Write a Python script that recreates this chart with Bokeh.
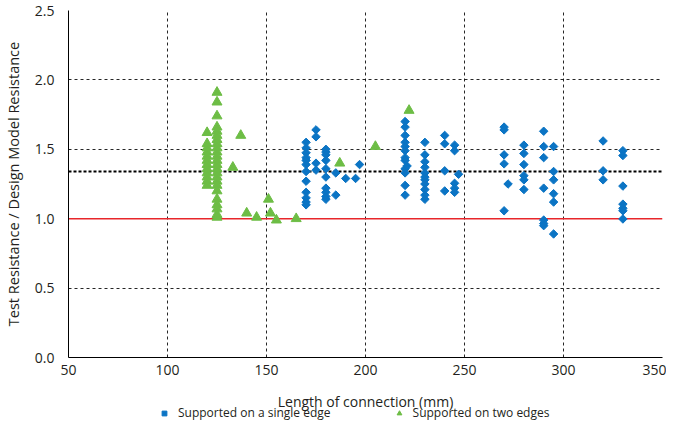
from bokeh.plotting import figure
from bokeh.layouts import column
from bokeh.models import Span, Legend, LegendItem, Label, Range1d, FixedTicker, NumeralTickFormatter
from bokeh.embed import file_html
from bokeh.resources import INLINE
import numpy as np

# ---- data ----
single_x = ([170] * 12 + [175] * 4 + [180] * 10 + [185] * 2 + [190, 195, 197]
            + [220] * 12 + [221] + [230] * 11 + [240] * 4 + [245] * 5 + [247]
            + [270] * 5 + [272] + [280] * 6 + [290] * 7 + [295] * 6 + [320] * 3 + [330] * 7)
single_y = ([1.55, 1.51, 1.475, 1.44, 1.42, 1.39, 1.34, 1.27, 1.19, 1.15, 1.12, 1.10]
            + [1.64, 1.59, 1.40, 1.35]
            + [1.50, 1.48, 1.46, 1.42, 1.36, 1.30, 1.22, 1.19, 1.16, 1.14]
            + [1.33, 1.17] + [1.29, 1.29, 1.39]
            + [1.70, 1.66, 1.60, 1.55, 1.52, 1.49, 1.44, 1.42, 1.36, 1.33, 1.24, 1.17]
            + [1.38]
            + [1.55, 1.46, 1.41, 1.37, 1.33, 1.30, 1.28, 1.25, 1.21, 1.17, 1.14]
            + [1.60, 1.54, 1.345, 1.20]
            + [1.53, 1.49, 1.255, 1.22, 1.19] + [1.32]
            + [1.66, 1.64, 1.46, 1.395, 1.057] + [1.25]
            + [1.53, 1.47, 1.39, 1.31, 1.28, 1.21]
            + [1.63, 1.52, 1.44, 1.22, 0.99, 0.965, 0.95]
            + [1.52, 1.34, 1.28, 1.18, 1.12, 0.89]
            + [1.56, 1.345, 1.28]
            + [1.49, 1.455, 1.235, 1.105, 1.075, 1.057, 0.998])

two_x = ([120] * 12 + [125] * 24 + [133, 137, 140, 145, 151, 152, 155, 165, 187, 205, 222])
two_y = ([1.62, 1.54, 1.51, 1.48, 1.45, 1.42, 1.39, 1.36, 1.33, 1.30, 1.27, 1.24]
         + [1.91, 1.84, 1.74, 1.66, 1.63, 1.60, 1.57, 1.54, 1.51, 1.48, 1.45, 1.42,
            1.39, 1.36, 1.33, 1.30, 1.27, 1.24, 1.20, 1.14, 1.10, 1.07, 1.03, 1.01]
         + [1.37, 1.60, 1.04, 1.01, 1.14, 1.04, 0.99, 1.00, 1.40, 1.52, 1.78])

mean_ratio = 1.34
unity = 1.0
x_min, x_max = 50, 350
x_ticks = [50, 100, 150, 200, 250, 300, 350]
y_ticks = [0.0, 0.5, 1.0, 1.5, 2.0, 2.5]
x_title = "Length of connection (mm)"
y_title = "Test Resistance / Design Model Resistance"
series_names = ["Supported on a single edge", "Supported on two edges"]

FONT = "Open Sans"
TXT = "#231F20"
BLUE = "#0B74C4"
GREEN = "#6DBD45"

p = figure(width=666, height=414, x_range=Range1d(x_min, x_max), y_range=Range1d(0, 2.5),
           output_backend="svg", toolbar_location=None,
           min_border_left=58, min_border_right=4, min_border_top=10, min_border_bottom=57)
p.outline_line_color = None
p.background_fill_color = "white"

for ax in (p.xaxis, p.yaxis):
    ax.axis_line_color = "black"
    ax.axis_line_width = 1
    ax.major_tick_out = 0
    ax.major_tick_in = 0
    ax.minor_tick_out = 0
    ax.minor_tick_in = 0
    ax.major_label_text_font = FONT
    ax.major_label_text_font_size = "14px"
    ax.major_label_text_color = TXT
    ax.axis_label_text_font = FONT
    ax.axis_label_text_font_style = "normal"
    ax.axis_label_text_color = TXT

p.yaxis.axis_label_text_font_size = "14.5px"
p.xaxis.ticker = FixedTicker(ticks=x_ticks)
p.yaxis.ticker = FixedTicker(ticks=y_ticks)
p.yaxis.formatter = NumeralTickFormatter(format="0.0")
p.xaxis.major_label_standoff = 7
p.yaxis.major_label_standoff = 14
p.yaxis.axis_label = y_title
p.yaxis.axis_label_standoff = 9

for g in (p.xgrid, p.ygrid):
    g.grid_line_color = "black"
    g.grid_line_dash = "3 3"
    g.grid_line_width = 1
    g.grid_line_alpha = 0.85

p.add_layout(Span(location=unity, dimension="width", line_color="#E8262B",
                  line_width=1.5, level="underlay"))
p.add_layout(Span(location=mean_ratio, dimension="width", line_color="black",
                  line_width=1.8, line_dash="3 2", level="underlay"))

p.scatter(single_x, single_y, marker="square", angle=np.pi / 4, size=6,
          fill_color=BLUE, line_color=BLUE)
p.scatter(two_x, two_y, marker="triangle", size=10,
          fill_color=GREEN, line_color=GREEN)

# ---- bottom strip: x-axis title + legend (overlaps the empty bottom border) ----
lf = figure(width=666, height=50, x_range=Range1d(x_min, x_max), y_range=Range1d(0, 1),
            output_backend="svg", toolbar_location=None,
            x_axis_location=None, y_axis_location=None,
            min_border_left=0, min_border_right=0, min_border_top=0, min_border_bottom=0)
lf.grid.visible = False
lf.outline_line_color = None
lf.background_fill_alpha = 0
lf.border_fill_alpha = 0
lf.add_layout(Label(x=(x_min + x_max) / 2, y=23, x_units="data", y_units="screen",
                    text=x_title, text_align="center", text_baseline="middle",
                    text_font=FONT, text_font_size="14px", text_color=TXT))
lr1 = lf.scatter(single_x[:1], single_y[:1], marker="square", angle=np.pi / 4, size=6,
                 fill_color=BLUE, line_color=BLUE)
lr2 = lf.scatter(two_x[:1], two_y[:1], marker="triangle", size=10,
                 fill_color=GREEN, line_color=GREEN)
legend = Legend(items=[LegendItem(label=series_names[0], renderers=[lr1]),
                       LegendItem(label=series_names[1], renderers=[lr2])],
                orientation="horizontal", location=(90, 3), border_line_color=None,
                background_fill_alpha=0, label_text_font=FONT, label_text_font_size="12px",
                label_text_color=TXT, glyph_width=12, glyph_height=12, label_standoff=8,
                spacing=62, padding=0, margin=0)
lf.add_layout(legend)
lf.margin = (-40, 0, 0, 0)

layout = column(p, lf, spacing=0)
open("out.html", "w").write(file_html(layout, INLINE))
